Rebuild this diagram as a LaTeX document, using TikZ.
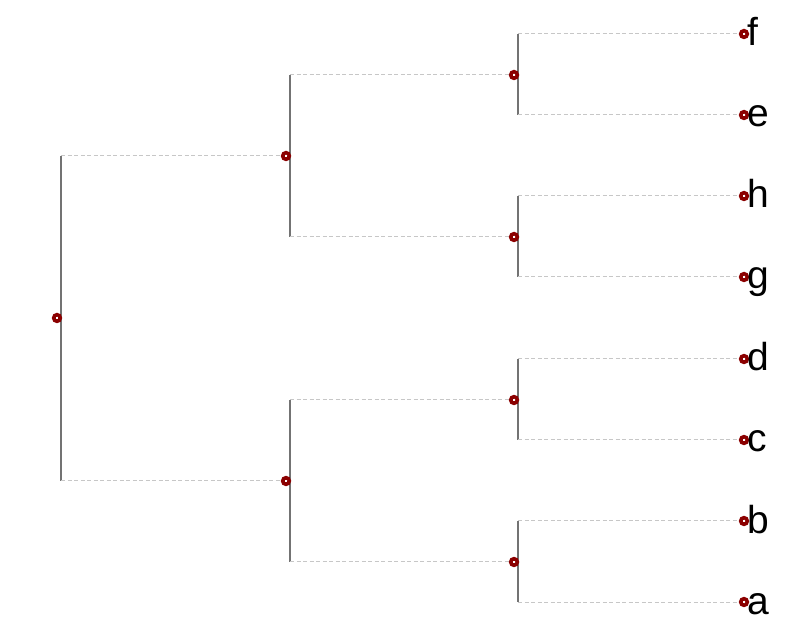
\documentclass[tikz,border=0pt]{standalone}
\usepackage{fontspec}
\setmainfont{Liberation Sans}
\usetikzlibrary{positioning, backgrounds, calc}
\definecolor{treered}{HTML}{8B0000}

\begin{document}
\begin{tikzpicture}[
    x=1pt, y=-1pt,
    joint/.style={circle, draw=treered, fill=white, line width=3.6pt, inner sep=0pt, minimum size=6.6pt},
    branch/.style={draw=black!55, line width=1.4pt},
    link/.style={draw=black!22, dash pattern=on 4pt off 2.5pt, line width=1pt},
    tag/.style={anchor=base west, inner sep=0pt, font=\fontsize{39}{39}\selectfont}
]
\useasboundingbox (0,0) rectangle (807,636);

% Root and inner joints
\node[joint] (root) at (57,318) {};
\node[joint] (upper) at (286,156) {};
\node[joint] (lower) at (286,481) {};
\node[joint] (fe) at (514,75) {};
\node[joint] (hg) at (514,237) {};
\node[joint] (dc) at (514,400) {};
\node[joint] (ba) at (514,562) {};

% Leaves
\node[joint] (f) at (744,34) {};
\node[joint] (e) at (744,115) {};
\node[joint] (h) at (744,196) {};
\node[joint] (g) at (744,277) {};
\node[joint] (d) at (744,359) {};
\node[joint] (c) at (744,440) {};
\node[joint] (b) at (744,521) {};
\node[joint] (a) at (744,602) {};

% Leaf labels
\node[tag] at ([xshift=3pt,yshift=-12pt]f.center) {f};
\node[tag] at ([xshift=3pt,yshift=-12pt]e.center) {e};
\node[tag] at ([xshift=3pt,yshift=-12pt]h.center) {h};
\node[tag] at ([xshift=3pt,yshift=-12pt]g.center) {g};
\node[tag] at ([xshift=3pt,yshift=-12pt]d.center) {d};
\node[tag] at ([xshift=3pt,yshift=-12pt]c.center) {c};
\node[tag] at ([xshift=3pt,yshift=-12pt]b.center) {b};
\node[tag] at ([xshift=3pt,yshift=-12pt]a.center) {a};

% Bars sit just right of each joint
\coordinate (rootbar) at ([xshift=4pt]root.center);
\coordinate (upperbar) at ([xshift=4pt]upper.center);
\coordinate (lowerbar) at ([xshift=4pt]lower.center);
\coordinate (febar) at ([xshift=4pt]fe.center);
\coordinate (hgbar) at ([xshift=4pt]hg.center);
\coordinate (dcbar) at ([xshift=4pt]dc.center);
\coordinate (babar) at ([xshift=4pt]ba.center);

\begin{scope}[on background layer]
% Vertical bars
\draw[branch] (rootbar |- upper) -- (rootbar |- lower);
\draw[branch] (upperbar |- fe) -- (upperbar |- hg);
\draw[branch] (lowerbar |- dc) -- (lowerbar |- ba);
\draw[branch] (febar |- f) -- (febar |- e);
\draw[branch] (hgbar |- h) -- (hgbar |- g);
\draw[branch] (dcbar |- d) -- (dcbar |- c);
\draw[branch] (babar |- b) -- (babar |- a);

% Dashed links
\draw[link] (rootbar |- upper) -- (upperbar |- upper);
\draw[link] (rootbar |- lower) -- (lowerbar |- lower);
\draw[link] (upperbar |- fe) -- (febar |- fe);
\draw[link] (upperbar |- hg) -- (hgbar |- hg);
\draw[link] (lowerbar |- dc) -- (dcbar |- dc);
\draw[link] (lowerbar |- ba) -- (babar |- ba);
\draw[link] (febar |- f) -- (f);
\draw[link] (febar |- e) -- (e);
\draw[link] (hgbar |- h) -- (h);
\draw[link] (hgbar |- g) -- (g);
\draw[link] (dcbar |- d) -- (d);
\draw[link] (dcbar |- c) -- (c);
\draw[link] (babar |- b) -- (b);
\draw[link] (babar |- a) -- (a);
\end{scope}

\end{tikzpicture}
\end{document}
